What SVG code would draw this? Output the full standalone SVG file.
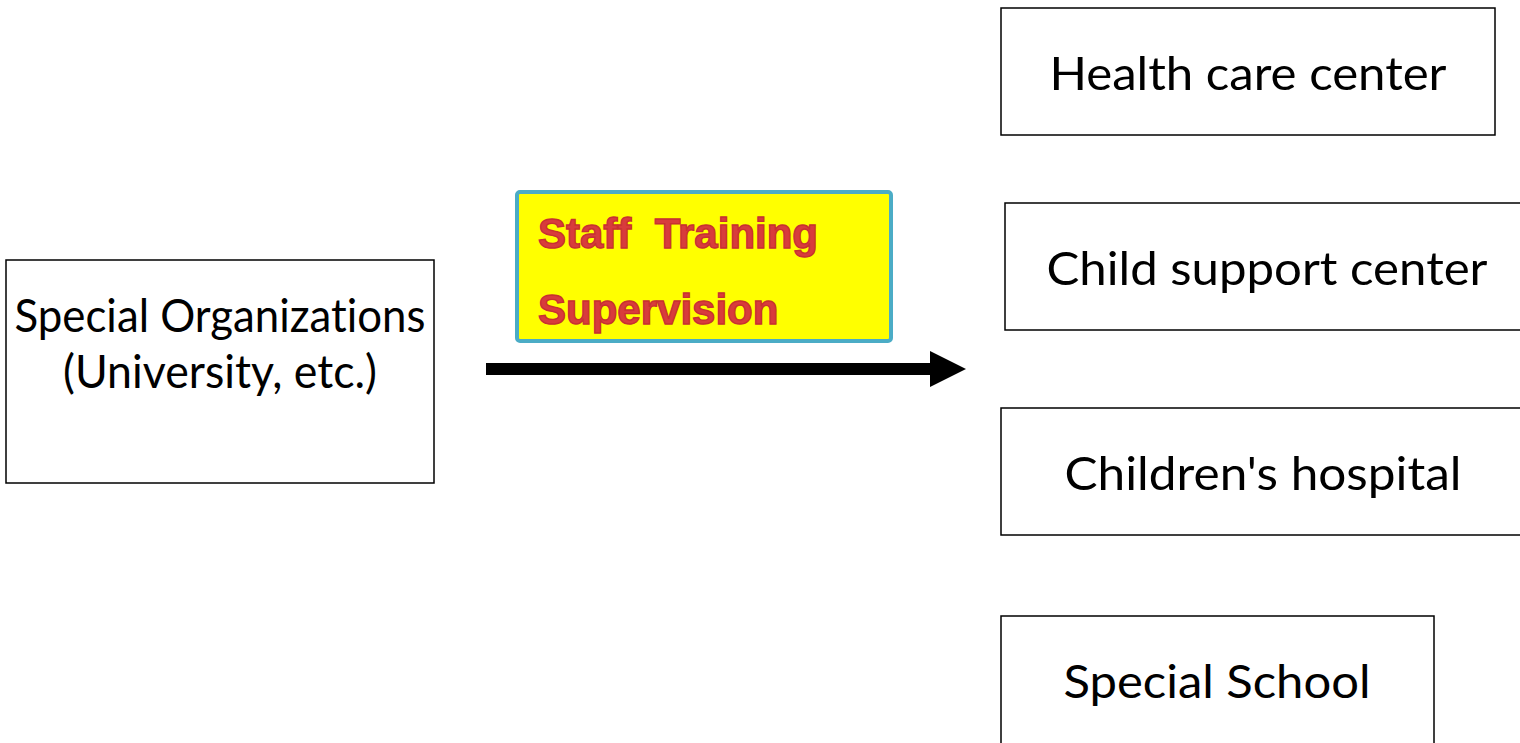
<svg xmlns="http://www.w3.org/2000/svg" width="1520" height="743" viewBox="0 0 1520 743">
<style>
.box{fill:#fff;stroke:#000;stroke-width:1.5}
.t{font-family:Lato,"Open Sans",sans-serif;font-size:47px;fill:#000;text-anchor:middle;font-variant-ligatures:none}
.lbl{font-family:"Liberation Sans",Arial,sans-serif;font-weight:bold;font-size:42px;fill:#d83c3c;stroke:#c83030;stroke-width:1.4}
</style>
<defs>
<marker id="ah" markerWidth="3" markerHeight="3" refX="0" refY="1.5" orient="auto" markerUnits="strokeWidth">
<path d="M0,0 L3,1.5 L0,3 Z" fill="#000"/>
</marker>
</defs>
<rect width="1520" height="743" fill="#fff"/>
<g id="connectors">
<line x1="486" y1="369" x2="930" y2="369" stroke="#000" stroke-width="12" marker-end="url(#ah)"/>
</g>
<g id="label">
<rect x="517" y="192" width="374" height="149" rx="3" fill="#ffff00" stroke="#4bacc6" stroke-width="4"/>
<text class="lbl" x="538" y="248" xml:space="preserve">Staff  Training</text>
<text class="lbl" x="538" y="324">Supervision</text>
</g>
<g id="special-organizations">
<rect class="box" x="6" y="260" width="428" height="223"/>
<text class="t" x="220" y="332" textLength="411" lengthAdjust="spacingAndGlyphs">Special Organizations</text>
<text class="t" x="220" y="388" textLength="314" lengthAdjust="spacingAndGlyphs">(University, etc.)</text>
</g>
<g id="health-care-center">
<rect class="box" x="1001" y="8" width="494" height="127"/>
<text class="t" x="1248" y="90" textLength="397" lengthAdjust="spacingAndGlyphs">Health care center</text>
</g>
<g id="child-support-center">
<rect class="box" x="1005" y="203" width="530" height="127"/>
<text class="t" x="1267" y="285" textLength="441" lengthAdjust="spacingAndGlyphs">Child support center</text>
</g>
<g id="childrens-hospital">
<rect class="box" x="1001" y="408" width="534" height="127"/>
<text class="t" x="1263" y="490" textLength="397" lengthAdjust="spacingAndGlyphs">Children's hospital</text>
</g>
<g id="special-school">
<rect class="box" x="1001" y="616" width="433" height="140"/>
<text class="t" x="1217" y="698" textLength="307" lengthAdjust="spacingAndGlyphs">Special School</text>
</g>
</svg>
